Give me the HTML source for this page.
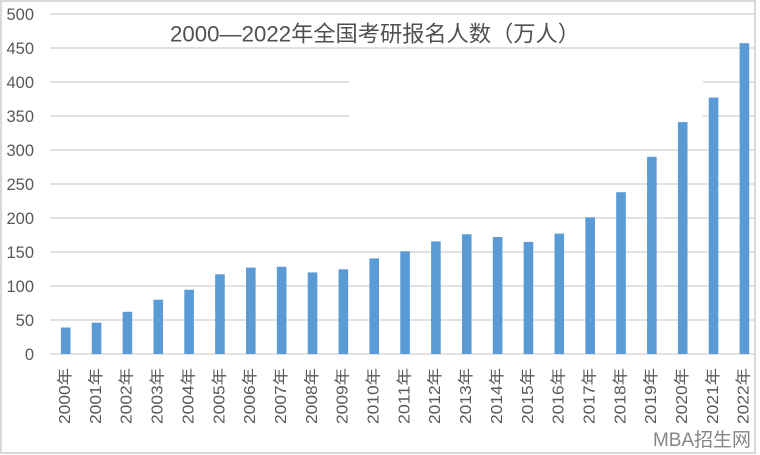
<!DOCTYPE html>
<html>
<head>
<meta charset="utf-8">
<style>
  html,body{margin:0;padding:0;background:#fff;}
  svg{display:block;}
  text{font-family:"Liberation Sans","Noto Sans CJK SC",sans-serif;}
</style>
</head>
<body>
<svg width="760" height="455" viewBox="0 0 760 455" xmlns="http://www.w3.org/2000/svg">
  <rect x="0" y="0" width="760" height="455" fill="#fff"/>
  <!-- gridlines -->
  <g stroke="#d9d9d9" stroke-width="1.6">
    <line x1="50" y1="14" x2="755" y2="14"/>
    <line x1="50" y1="48" x2="755" y2="48"/>
    <line x1="50" y1="82" x2="349" y2="82"/>
    <line x1="703" y1="82" x2="755" y2="82"/>
    <line x1="50" y1="116" x2="349" y2="116"/>
    <line x1="703" y1="116" x2="755" y2="116"/>
    <line x1="50" y1="150" x2="755" y2="150"/>
    <line x1="50" y1="184" x2="755" y2="184"/>
    <line x1="50" y1="218" x2="755" y2="218"/>
    <line x1="50" y1="252" x2="755" y2="252"/>
    <line x1="50" y1="286" x2="755" y2="286"/>
    <line x1="50" y1="320" x2="755" y2="320"/>
    <line x1="50" y1="354" x2="755" y2="354"/>
  </g>
  <!-- y labels -->
  <g fill="#595959" font-size="16.5" text-anchor="end">
    <text x="34" y="20">500</text>
    <text x="34" y="54">450</text>
    <text x="34" y="88">400</text>
    <text x="34" y="122">350</text>
    <text x="34" y="156">300</text>
    <text x="34" y="190">250</text>
    <text x="34" y="224">200</text>
    <text x="34" y="258">150</text>
    <text x="34" y="292">100</text>
    <text x="34" y="326">50</text>
    <text x="34" y="360">0</text>
  </g>
  <!-- bars -->
  <g fill="#5b9bd5">
    <rect x="60.9" y="327.5" width="9.6" height="26.5"/>
    <rect x="91.75" y="322.7" width="9.6" height="31.3"/>
    <rect x="122.6" y="311.8" width="9.6" height="42.2"/>
    <rect x="153.45" y="299.7" width="9.6" height="54.3"/>
    <rect x="184.3" y="289.7" width="9.6" height="64.3"/>
    <rect x="215.15" y="274.3" width="9.6" height="79.7"/>
    <rect x="246" y="267.6" width="9.6" height="86.4"/>
    <rect x="276.85" y="266.8" width="9.6" height="87.2"/>
    <rect x="307.7" y="272.4" width="9.6" height="81.6"/>
    <rect x="338.55" y="269.3" width="9.6" height="84.7"/>
    <rect x="369.4" y="258.4" width="9.6" height="95.6"/>
    <rect x="400.25" y="251.3" width="9.6" height="102.7"/>
    <rect x="431.1" y="241.4" width="9.6" height="112.6"/>
    <rect x="461.95" y="234.3" width="9.6" height="119.7"/>
    <rect x="492.8" y="237" width="9.6" height="117"/>
    <rect x="523.65" y="241.9" width="9.6" height="112.1"/>
    <rect x="554.5" y="233.6" width="9.6" height="120.4"/>
    <rect x="585.35" y="217.3" width="9.6" height="136.7"/>
    <rect x="616.2" y="192.2" width="9.6" height="161.8"/>
    <rect x="647.05" y="156.8" width="9.6" height="197.2"/>
    <rect x="677.9" y="122.1" width="9.6" height="231.9"/>
    <rect x="708.75" y="97.6" width="9.6" height="256.4"/>
    <rect x="739.6" y="43.2" width="9.6" height="310.8"/>
  </g>
  <!-- x labels -->
  <g fill="#595959" font-size="15.5">
    <text transform="translate(70,424) rotate(-90)" textLength="56" lengthAdjust="spacingAndGlyphs">2000年</text>
    <text transform="translate(100.85,424) rotate(-90)" textLength="56" lengthAdjust="spacingAndGlyphs">2001年</text>
    <text transform="translate(131.7,424) rotate(-90)" textLength="56" lengthAdjust="spacingAndGlyphs">2002年</text>
    <text transform="translate(162.55,424) rotate(-90)" textLength="56" lengthAdjust="spacingAndGlyphs">2003年</text>
    <text transform="translate(193.4,424) rotate(-90)" textLength="56" lengthAdjust="spacingAndGlyphs">2004年</text>
    <text transform="translate(224.25,424) rotate(-90)" textLength="56" lengthAdjust="spacingAndGlyphs">2005年</text>
    <text transform="translate(255.1,424) rotate(-90)" textLength="56" lengthAdjust="spacingAndGlyphs">2006年</text>
    <text transform="translate(285.95,424) rotate(-90)" textLength="56" lengthAdjust="spacingAndGlyphs">2007年</text>
    <text transform="translate(316.8,424) rotate(-90)" textLength="56" lengthAdjust="spacingAndGlyphs">2008年</text>
    <text transform="translate(347.65,424) rotate(-90)" textLength="56" lengthAdjust="spacingAndGlyphs">2009年</text>
    <text transform="translate(378.5,424) rotate(-90)" textLength="56" lengthAdjust="spacingAndGlyphs">2010年</text>
    <text transform="translate(409.35,424) rotate(-90)" textLength="56" lengthAdjust="spacingAndGlyphs">2011年</text>
    <text transform="translate(440.2,424) rotate(-90)" textLength="56" lengthAdjust="spacingAndGlyphs">2012年</text>
    <text transform="translate(471.05,424) rotate(-90)" textLength="56" lengthAdjust="spacingAndGlyphs">2013年</text>
    <text transform="translate(501.9,424) rotate(-90)" textLength="56" lengthAdjust="spacingAndGlyphs">2014年</text>
    <text transform="translate(532.75,424) rotate(-90)" textLength="56" lengthAdjust="spacingAndGlyphs">2015年</text>
    <text transform="translate(563.6,424) rotate(-90)" textLength="56" lengthAdjust="spacingAndGlyphs">2016年</text>
    <text transform="translate(594.45,424) rotate(-90)" textLength="56" lengthAdjust="spacingAndGlyphs">2017年</text>
    <text transform="translate(625.3,424) rotate(-90)" textLength="56" lengthAdjust="spacingAndGlyphs">2018年</text>
    <text transform="translate(656.15,424) rotate(-90)" textLength="56" lengthAdjust="spacingAndGlyphs">2019年</text>
    <text transform="translate(687,424) rotate(-90)" textLength="56" lengthAdjust="spacingAndGlyphs">2020年</text>
    <text transform="translate(717.85,424) rotate(-90)" textLength="56" lengthAdjust="spacingAndGlyphs">2021年</text>
    <text transform="translate(748.7,424) rotate(-90)" textLength="56" lengthAdjust="spacingAndGlyphs">2022年</text>
  </g>
  <!-- title -->
  <text x="170" y="41.5" font-size="22" fill="#505050" textLength="410" lengthAdjust="spacingAndGlyphs">2000—2022年全国考研报名人数（万人）</text>
  <!-- watermark -->
  <text x="653" y="446" font-size="19" fill="#858585" textLength="98" lengthAdjust="spacingAndGlyphs">MBA招生网</text>
  <!-- border -->
  <rect x="1" y="1" width="754" height="452" fill="none" stroke="#d9d9d9" stroke-width="2"/>
</svg>
</body>
</html>
